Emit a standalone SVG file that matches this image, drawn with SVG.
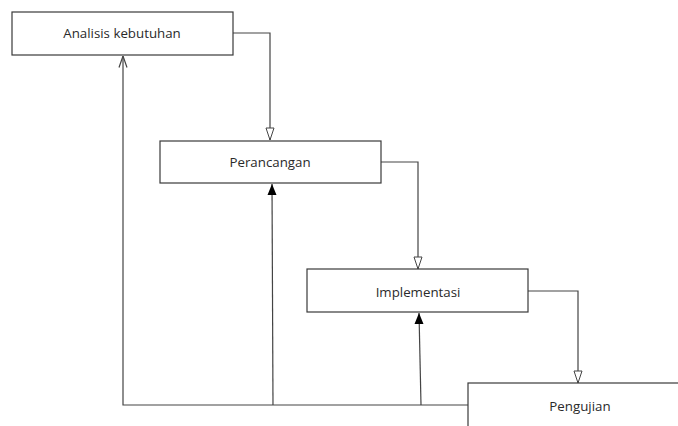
<svg xmlns="http://www.w3.org/2000/svg" width="678" height="426" viewBox="0 0 678 426">
<defs>
<style>
.box{fill:#fff;stroke:#3a3a3a;stroke-width:1.2}
.lbl{font-family:"Open Sans","Liberation Sans",sans-serif;font-size:13.3px;fill:#2a2a2a;text-anchor:middle;dominant-baseline:central}
.ln{fill:none;stroke:#444;stroke-width:1.2}
</style>
<marker id="open" viewBox="0 0 10 14" refX="5" refY="13" markerWidth="10" markerHeight="14" markerUnits="userSpaceOnUse" orient="0">
<path d="M1,1 L9,1 L5,13 Z" fill="#fff" stroke="#444" stroke-width="1"/>
</marker>
<marker id="filled" viewBox="0 0 10 12" refX="5" refY="0.5" markerWidth="10" markerHeight="12" markerUnits="userSpaceOnUse" orient="0">
<path d="M5,0.5 L9.5,11.5 L0.5,11.5 Z" fill="#000"/>
</marker>
<marker id="vee" viewBox="0 0 10 14" refX="5" refY="0.5" markerWidth="10" markerHeight="14" markerUnits="userSpaceOnUse" orient="0">
<path d="M1,12 L5,0.5 L9,12" fill="none" stroke="#444" stroke-width="1.2"/>
</marker>
</defs>
<rect width="678" height="426" fill="#fff"/>
<g id="connectors">
<path class="ln" d="M233,33 H270 V140" marker-end="url(#open)"/>
<path class="ln" d="M381,162 H418 V269" marker-end="url(#open)"/>
<path class="ln" d="M528,291 H578 V383" marker-end="url(#open)"/>
<path class="ln" d="M468,405 H123 V56" marker-end="url(#vee)"/>
<path class="ln" d="M273,405 L272,184" marker-end="url(#filled)"/>
<path class="ln" d="M421,405 L419,313" marker-end="url(#filled)"/>
</g>
<g id="analisis">
<rect class="box" x="12" y="12" width="221" height="43"/>
<text class="lbl" x="122" y="33">Analisis kebutuhan</text>
</g>
<g id="perancangan">
<rect class="box" x="160" y="141" width="221" height="42"/>
<text class="lbl" x="270" y="162">Perancangan</text>
</g>
<g id="implementasi">
<rect class="box" x="307" y="269" width="221" height="43"/>
<text class="lbl" x="418" y="292">Implementasi</text>
</g>
<g id="pengujian">
<rect class="box" x="468" y="383" width="240" height="60"/>
<text class="lbl" x="580" y="406">Pengujian</text>
</g>
</svg>
